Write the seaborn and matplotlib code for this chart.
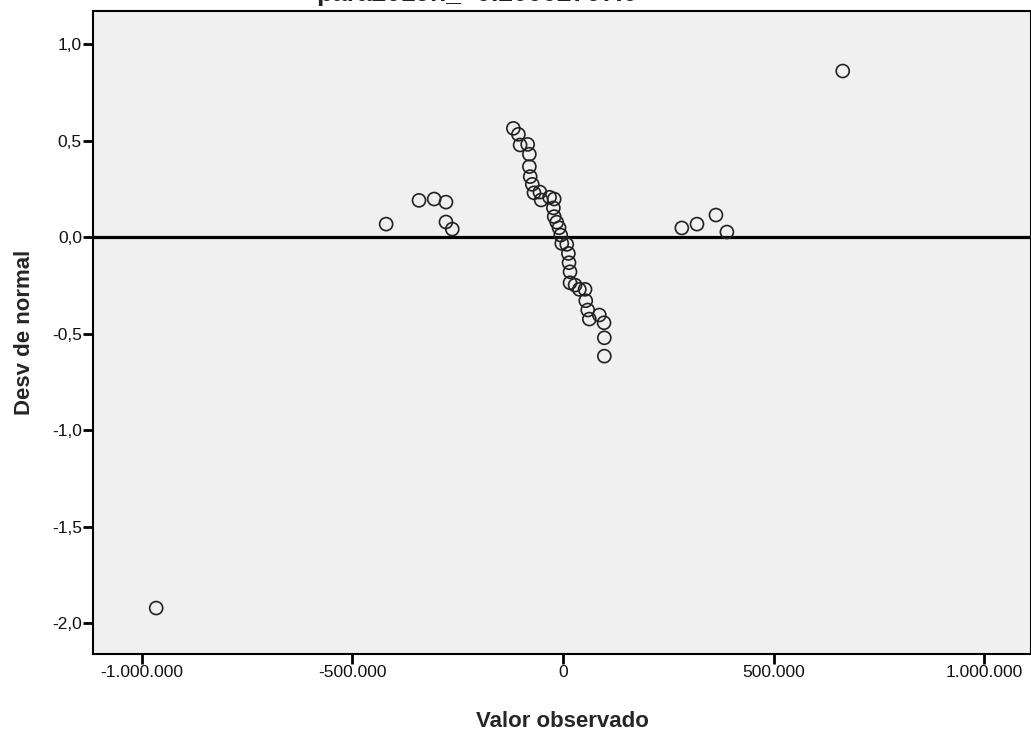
import matplotlib
matplotlib.use("Agg")
import matplotlib.pyplot as plt
import seaborn as sns
import pandas as pd

# observed value vs deviation from normal (detrended Q-Q)
observed = [
    -966000, 664000,
    -420000, -342000, -306000, -278000, -278000, -263000,
    282000, 318000, 363000, 389000,
    -118000, -106000, -102000, -84000, -80000, -80000, -78000, -73000,
    -69000, -55000, -52000, -32000, -21000, -23000, -21000, -15000,
    -9500, -5500, -3000, 8800, 12600, 14200, 16600, 16600,
    28500, 38700, 52200, 53900, 58600, 62400, 86100, 97300,
    98000, 98000,
]
deviation = [
    -1.922, 0.860,
    0.067, 0.190, 0.197, 0.181, 0.078, 0.041,
    0.047, 0.067, 0.114, 0.026,
    0.563, 0.532, 0.477, 0.480, 0.429, 0.365, 0.313, 0.273,
    0.229, 0.233, 0.192, 0.206, 0.197, 0.151, 0.106, 0.077,
    0.048, 0.010, -0.033, -0.038, -0.085, -0.133, -0.180, -0.237,
    -0.249, -0.271, -0.271, -0.330, -0.378, -0.425, -0.404, -0.444,
    -0.522, -0.617,
]

x_ticks = [-1000000, -500000, 0, 500000, 1000000]
x_labels = ["-1.000.000", "-500.000", "0", "500.000", "1.000.000"]
y_ticks = [1.0, 0.5, 0.0, -0.5, -1.0, -1.5, -2.0]
y_labels = ["1,0", "0,5", "0,0", "-0,5", "-1,0", "-1,5", "-2,0"]

# title sits mostly above the top edge, as in the source image
title = "para2019n_=0.20002707.0"

sns.set_style("white")
plt.rcParams["font.family"] = ["Liberation Sans", "DejaVu Sans"]

df = pd.DataFrame({"Valor observado": observed, "Desv de normal": deviation})

fig = plt.figure(figsize=(10.31, 7.34), dpi=100)
ax = fig.add_axes([93 / 1031, 80 / 734, 1 - 93 / 1031, 643 / 734])
ax.set_facecolor("#f0f0f0")

ax.axhline(0, color="black", linewidth=2.3, zorder=1)
sns.scatterplot(data=df, x="Valor observado", y="Desv de normal", ax=ax,
                s=88, facecolors="none", edgecolor="#222222", linewidth=1.2,
                zorder=3)

ax.set_xlim(-1116000, 1111000)
ax.set_ylim(-2.16, 1.171)
ax.set_xticks(x_ticks)
ax.set_xticklabels(x_labels)
ax.set_yticks(y_ticks)
ax.set_yticklabels(y_labels)
ax.tick_params(axis="both", direction="out", length=7, width=2,
               color="black", labelsize=12.5, labelcolor="#111111",
               bottom=True, left=True, pad=1)
ax.set_xlabel("Valor observado", fontsize=16, fontweight="bold", labelpad=22)
ax.set_ylabel("Desv de normal", fontsize=16, fontweight="bold", labelpad=12)

for side in ["left", "bottom", "top", "right"]:
    ax.spines[side].set_color("black")
    ax.spines[side].set_linewidth(1.5)

fig.text(477 / 1031, 1 - 0.5 / 734, title, ha="center", va="baseline",
         fontsize=19, fontweight="bold", color="#222222")

fig.savefig("out.png", dpi=100)
